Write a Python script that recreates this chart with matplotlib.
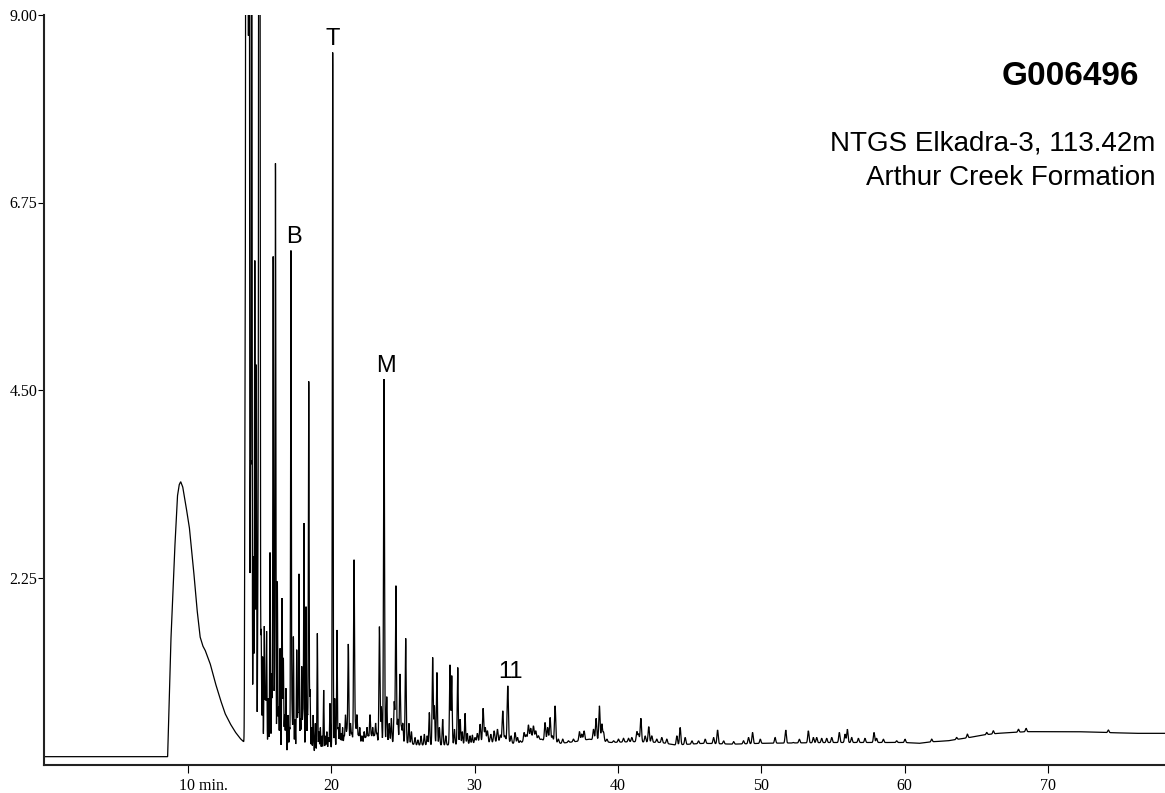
import numpy as np
import matplotlib
matplotlib.use("Agg")
import matplotlib.pyplot as plt
from matplotlib.transforms import ScaledTranslation

# ---- chromatogram data (retention time in min, detector response) ----
# slowly varying background level
base_times = [0.0, 8.60, 13.95, 14.5, 15.5, 16.5, 17.5, 18.5, 19.5, 20.5, 22.0, 23.0,
              25.0, 26.0, 28.0, 30.0, 32.0, 33.0, 34.0, 35.0, 36.0, 37.0, 38.0, 39.5,
              41.0, 43.0, 44.0, 46.0, 48.0, 50.0, 55.0, 58.0, 60.0, 61.0, 62.0, 63.0,
              64.5, 65.5, 66.5, 67.5, 68.5, 70.0, 72.0, 74.0, 76.0, 78.2]
base_levels = [0.10, 0.10, 0.27, 0.25, 0.18, 0.16, 0.16, 0.15, 0.18, 0.24, 0.26, 0.26,
               0.27, 0.24, 0.24, 0.26, 0.28, 0.25, 0.33, 0.29, 0.26, 0.28, 0.31, 0.27,
               0.28, 0.27, 0.24, 0.26, 0.25, 0.26, 0.27, 0.27, 0.27, 0.26, 0.28, 0.29,
               0.33, 0.36, 0.38, 0.39, 0.40, 0.40, 0.40, 0.39, 0.38, 0.38]

# solvent hump (replaces the background between 8.6 and 13.95 min)
hump_times = [8.60, 8.72, 8.81, 9.07, 9.28, 9.40, 9.51, 9.65, 9.81, 10.11, 10.39, 10.63,
              10.86, 11.05, 11.21, 11.56, 11.90, 12.25, 12.60, 12.95, 13.30, 13.65, 13.95]
hump_levels = [0.10, 0.85, 1.42, 2.50, 3.22, 3.36, 3.40, 3.34, 3.18, 2.86, 2.38, 1.90,
               1.54, 1.43, 1.38, 1.22, 1.00, 0.80, 0.62, 0.50, 0.40, 0.32, 0.27]

# resolved peaks: apex time and apex response
peak_times = [
    14.00, 14.07, 14.13, 14.20, 14.28, 14.38, 14.46, 14.58, 14.68, 14.78, 14.90, 14.97,
    15.03, 15.12, 15.22, 15.34, 15.42, 15.50, 15.62, 15.74, 15.86, 15.96, 16.05, 16.12,
    16.25, 16.34, 16.44, 16.58, 16.67, 16.76, 16.85, 17.00, 17.10, 17.20, 17.28, 17.37,
    17.48, 17.60, 17.68, 17.76, 17.86, 17.95, 18.03, 18.11, 18.25, 18.35, 18.44, 18.53,
    18.64, 18.75, 18.90, 19.04, 19.15, 19.25, 19.36, 19.48, 19.60, 19.70, 19.82, 19.92,
    20.11, 20.25, 20.41, 20.50, 20.60, 20.70, 20.80, 20.90, 21.00, 21.10, 21.20, 21.35,
    21.45, 21.60, 21.70, 21.80, 21.90, 22.00, 22.15, 22.30, 22.40, 22.50, 22.60, 22.71,
    22.80, 22.90, 23.00, 23.10, 23.20, 23.37, 23.50, 23.69, 23.88,
    24.05, 24.20, 24.40, 24.52, 24.65, 24.80, 24.90, 25.00, 25.20, 25.43, 25.60, 25.85,
    26.05, 26.27, 26.50, 26.70, 26.85, 27.08,
    27.20, 27.38, 27.55, 27.78, 28.00, 28.29, 28.41, 28.60, 28.83, 29.00, 29.15, 29.34,
    29.50, 29.69, 29.85, 30.04, 30.20, 30.39,
    30.60, 30.75, 30.90, 31.13, 31.37, 31.60, 31.80, 31.97, 32.13, 32.32, 32.55, 32.83,
    33.00, 33.18, 33.46, 33.60,
    33.76, 33.92, 34.11, 34.27, 34.46, 34.69, 34.92, 35.10, 35.27, 35.43, 35.62, 35.85,
    36.15, 36.55, 36.90, 37.32, 37.48, 37.64, 37.95, 38.30, 38.48, 38.71, 38.88, 39.00,
    39.23, 39.70, 40.04, 40.39, 40.74, 40.97, 41.32, 41.44, 41.60, 41.90, 42.15, 42.36,
    42.71, 43.06, 43.41, 44.11, 44.34, 44.69, 45.16, 45.62, 46.09, 46.67, 46.95, 47.37,
    48.07, 48.76, 49.11, 49.39, 49.93, 50.96, 51.70, 52.23, 52.65, 53.28, 53.63, 53.86,
    54.21, 54.56, 54.91, 55.44, 55.84, 56.00, 56.30, 56.77, 57.23, 57.86, 58.04, 58.51,
    59.44, 60.02, 61.88, 63.62, 64.37, 65.72, 66.18, 67.93, 68.46, 74.20]
peak_heights = [
    4.45, 18.0, 16.0, 12.0, 17.0, 3.50, 14.0, 2.50, 6.05, 4.80, 2.20, 16.0,
    12.0, 1.60, 1.30, 1.66, 0.90, 1.60, 0.80, 2.55, 1.10, 6.10, 0.90, 7.20,
    2.20, 0.70, 1.40, 2.00, 1.28, 0.60, 0.92, 0.60, 0.45, 6.17, 0.60, 1.54,
    0.55, 1.38, 0.60, 2.29, 0.55, 1.18, 0.60, 2.90, 1.90, 0.60, 4.60, 0.90,
    0.45, 0.60, 0.50, 1.58, 0.40, 0.45, 0.35, 0.90, 0.35, 0.40, 0.33, 0.74,
    8.55, 0.80, 1.62, 0.45, 0.50, 0.38, 0.45, 0.35, 0.60, 0.40, 1.45, 0.50,
    0.38, 2.46, 0.45, 0.60, 0.35, 0.45, 0.35, 0.40, 0.33, 0.45, 0.35, 0.60,
    0.35, 0.45, 0.35, 0.50, 0.38, 1.66, 0.70, 4.63, 0.82,
    0.50, 0.56, 0.76, 2.15, 0.55, 1.09, 0.45, 0.50, 1.52, 0.50, 0.40, 0.33,
    0.30, 0.35, 0.37, 0.35, 0.63, 1.29,
    0.71, 1.11, 0.45, 0.55, 0.35, 1.20, 1.07, 0.43, 1.17, 0.55, 0.40, 0.62,
    0.38, 0.35, 0.36, 0.33, 0.38, 0.49,
    0.68, 0.45, 0.41, 0.37, 0.41, 0.43, 0.36, 0.65, 0.35, 0.95, 0.35, 0.39,
    0.33, 0.29, 0.39, 0.36,
    0.48, 0.44, 0.47, 0.41, 0.35, 0.31, 0.51, 0.45, 0.57, 0.35, 0.71, 0.31,
    0.31, 0.29, 0.31, 0.40, 0.37, 0.41, 0.31, 0.43, 0.56, 0.71, 0.49, 0.39,
    0.31, 0.29, 0.31, 0.32, 0.32, 0.33, 0.40, 0.37, 0.56, 0.35, 0.46, 0.35,
    0.31, 0.33, 0.31, 0.35, 0.45, 0.33, 0.29, 0.29, 0.31, 0.33, 0.42, 0.29,
    0.28, 0.29, 0.33, 0.39, 0.31, 0.33, 0.42, 0.27, 0.31, 0.41, 0.33, 0.33,
    0.32, 0.32, 0.33, 0.39, 0.37, 0.43, 0.33, 0.32, 0.32, 0.39, 0.32, 0.31,
    0.29, 0.31, 0.31, 0.33, 0.37, 0.39, 0.41, 0.43, 0.44, 0.42]

# compound labels: text, peak time, apex response
label_texts = ["T", "B", "M", "11"]
label_times = [20.11, 17.20, 23.69, 32.32]
label_heights = [8.55, 6.17, 4.63, 0.95]

y_ticks = [2.25, 4.50, 6.75, 9.00]
x_ticks = [10, 20, 30, 40, 50, 60, 70]
x_tick_labels = ["10 min.", "20", "30", "40", "50", "60", "70"]

sample_id = "G006496"
sample_lines = ["NTGS Elkadra-3, 113.42m", "Arthur Creek Formation"]

# ---- build the trace ----
t = np.union1d(np.arange(0.0, 78.2001, 0.005), np.array(peak_times))
bg = np.interp(t, base_times, base_levels)
in_hump = (t >= hump_times[0]) & (t <= hump_times[-1])
bg[in_hump] = np.interp(t[in_hump], hump_times, hump_levels)

signal = bg.copy()
for pt, ph in zip(peak_times, peak_heights):
    amp = ph - np.interp(pt, base_times, base_levels)
    if amp <= 0:
        continue
    if pt < 21:
        sigma = 0.026
    elif pt < 30:
        sigma = 0.035
    else:
        sigma = 0.045
    signal += amp * np.exp(-0.5 * ((t - pt) / sigma) ** 2)

# ---- figure ----
W, H = 1165, 793
fig = plt.figure(figsize=(W / 100, H / 100), dpi=100)
ax = fig.add_axes([44.3 / W, 28 / H, (W - 44.3) / W, 750 / H])

ax.plot(t, signal, color="black", lw=0.9, solid_joinstyle="miter")
ax.set_xlim(0, 78.15)
ax.set_ylim(0, 9.0)

for s in ("top", "right"):
    ax.spines[s].set_visible(False)
for s in ("left", "bottom"):
    ax.spines[s].set_linewidth(1.5)
    ax.spines[s].set_color("#222222")

serif = ["Liberation Serif", "DejaVu Serif"]
ax.set_yticks(y_ticks)
ax.set_yticklabels([f"{v:.2f}" for v in y_ticks], family=serif, fontsize=11.5)
ax.set_xticks(x_ticks)
ax.set_xticklabels(x_tick_labels, family=serif, fontsize=11.5)
ax.tick_params(axis="y", length=4, width=0.8, pad=1, direction="out")
ax.tick_params(axis="x", length=6, width=0.8, pad=3, direction="out")

# keep the number of "10 min." centred on its tick
first = ax.get_xticklabels()[0]
first.set_transform(first.get_transform() + ScaledTranslation(11.5 / 72, 0, fig.dpi_scale_trans))

sans = ["Liberation Sans", "DejaVu Sans"]
label_dx = [0, 2.2, 1.5, 1.7]
for txt, lt, lh, dx in zip(label_texts, label_times, label_heights, label_dx):
    ax.annotate(txt, xy=(lt, lh), xytext=(dx, 5.5), textcoords="offset points",
                ha="center", va="baseline", family=sans, fontsize=17)

fig.text(1139 / W, 1 - 85 / H, sample_id, ha="right", va="baseline",
         family=sans, fontsize=24, fontweight="bold")
fig.text(1155 / W, 1 - 150 / H, sample_lines[0], ha="right", va="baseline",
         family=sans, fontsize=20)
fig.text(1155 / W, 1 - 185 / H, sample_lines[1], ha="right", va="baseline",
         family=sans, fontsize=20)

fig.savefig("out.png", dpi=100, facecolor="white")
